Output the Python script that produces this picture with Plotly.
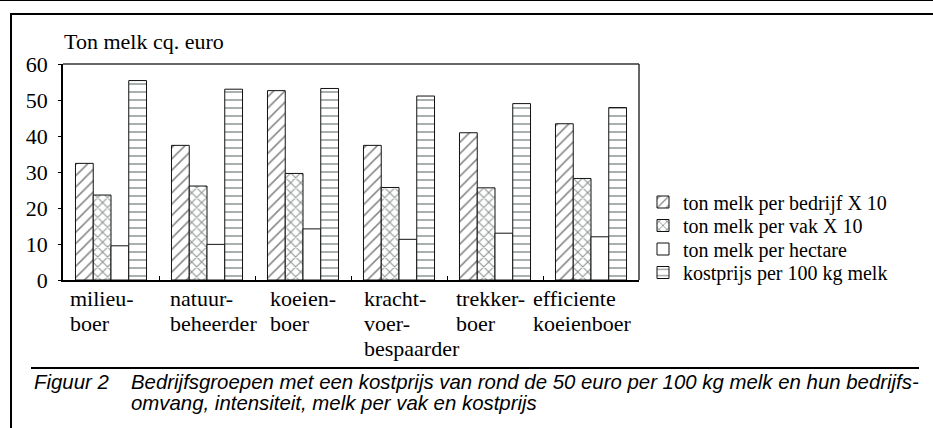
import plotly.graph_objects as go

# ---------------- data ----------------
categories = ["milieuboer", "natuurbeheerder", "koeienboer",
              "krachtvoerbespaarder", "trekkerboer", "efficiente koeienboer"]
category_labels = [["milieu-", "boer"], ["natuur-", "beheerder"], ["koeien-", "boer"],
                   ["kracht-", "voer-", "bespaarder"], ["trekker-", "boer"],
                   ["efficiente", "koeienboer"]]

melk_per_bedrijf = [32.4, 37.4, 52.6, 37.4, 40.9, 43.4]
melk_per_vak = [23.6, 26.1, 29.6, 25.7, 25.6, 28.2]
melk_per_hectare = [9.5, 9.9, 14.2, 11.3, 13.0, 12.0]
kostprijs = [55.4, 53.0, 53.2, 51.1, 49.0, 47.9]

series_names = ["ton melk per bedrijf X 10", "ton melk per vak X 10",
                "ton melk per hectare", "kostprijs per 100 kg melk"]
y_ticks = [0, 10, 20, 30, 40, 50, 60]

y_title = "Ton melk cq. euro"
caption_label = "Figuur 2"
caption_lines = ["Bedrijfsgroepen met een kostprijs van rond de 50 euro per 100 kg melk en hun bedrijfs-",
                 "omvang, intensiteit, melk per vak en kostprijs"]

# ---------------- styling ----------------
W, H = 933, 428
L, R, T, B = 63, 294, 64, 148
PW, PH = W - L - R, H - T - B
SERIF = "Liberation Serif"
SANS = "Liberation Sans"
FS = 22


def px(x):
    return (x - L) / PW


def py(y):
    return (H - B - y) / PH


patterns = ["/", "x", "", "-"]
pat_sizes = [8, 7, 8, 8]
pat_solid = [0.2, 0.28, 0.2, 0.2]
pat_colors = ["#111111", "#1a2424", "#111111", "#2a3838"]
legend_ids = ["legend", "legend2", "legend3", "legend4"]
legend_rows = [202, 225.5, 249, 272.5]
label_shift = [-43, -39, -35, -37, -41, -60]

fig = go.Figure()
for name, vals, pat, sz, so, pc, lg in zip(series_names,
                                           [melk_per_bedrijf, melk_per_vak, melk_per_hectare, kostprijs],
                                           patterns, pat_sizes, pat_solid, pat_colors, legend_ids):
    fig.add_trace(go.Bar(
        x=categories, y=vals, name=name, legend=lg,
        marker=dict(color="white",
                    line=dict(color="#111111", width=1),
                    pattern=dict(shape=pat, fgcolor=pc, bgcolor="white",
                                 size=sz, solidity=so, fillmode="overlay")),
    ))

annotations = []
for cat, lines, sh in zip(categories, category_labels, label_shift):
    for i, ln in enumerate(lines):
        annotations.append(dict(x=cat, xref="x", y=0, yref="y", text=ln,
                                showarrow=False, xanchor="left", yanchor="middle",
                                align="left", xshift=sh, yshift=-18 - 25 * i,
                                font=dict(family=SERIF, size=FS, color="black")))

annotations.append(dict(x=px(62), xref="paper", y=py(41), yref="paper", text=y_title,
                        showarrow=False, xanchor="left", yanchor="middle",
                        font=dict(family=SERIF, size=FS, color="black")))
annotations.append(dict(x=px(32), xref="paper", y=py(382), yref="paper",
                        text="<i>" + caption_label + "</i>",
                        showarrow=False, xanchor="left", yanchor="middle",
                        font=dict(family=SANS, size=20.4, color="black")))
for i, line in enumerate(caption_lines):
    annotations.append(dict(x=px(129), xref="paper", y=py(382 + 21 * i), yref="paper",
                            text="<i>" + line + "</i>",
                            showarrow=False, xanchor="left", yanchor="middle",
                            font=dict(family=SANS, size=20.4, color="black")))

shapes = [
    dict(type="line", xref="paper", yref="paper", x0=px(0), x1=px(W), y0=py(0.5), y1=py(0.5),
         line=dict(color="black", width=1)),
    dict(type="line", xref="paper", yref="paper", x0=px(10), x1=px(W), y0=py(14), y1=py(14),
         line=dict(color="black", width=2)),
    dict(type="line", xref="paper", yref="paper", x0=px(11), x1=px(11), y0=py(14), y1=py(H),
         line=dict(color="black", width=2)),
    dict(type="line", xref="paper", yref="paper", x0=px(31), x1=px(919), y0=py(368), y1=py(368),
         line=dict(color="black", width=2)),
    # plot frame (top and right borders)
    dict(type="line", xref="paper", yref="paper", x0=0, x1=1, y0=1, y1=1,
         line=dict(color="#333333", width=1.5)),
    dict(type="line", xref="paper", yref="paper", x0=1, x1=1, y0=0, y1=1,
         line=dict(color="#333333", width=1.5)),
]

legend_common = dict(x=px(643), xanchor="left", yanchor="middle",
                     font=dict(family=SERIF, size=20, color="black"),
                     bgcolor="rgba(0,0,0,0)", borderwidth=0)
legends = {lg: dict(legend_common, y=py(row)) for lg, row in zip(legend_ids, legend_rows)}

fig.update_layout(
    width=W, height=H,
    margin=dict(l=L, r=R, t=T, b=B, pad=0),
    paper_bgcolor="white", plot_bgcolor="white",
    barmode="group", bargap=0.26, bargroupgap=0,
    font=dict(family=SERIF, size=FS, color="black"),
    showlegend=True,
    xaxis=dict(range=[-0.5, 5.5], showticklabels=False, ticks="inside",
               tickson="boundaries", ticklen=4, tickcolor="black",
               showline=True, linecolor="black", linewidth=2, mirror=False,
               showgrid=False, zeroline=False, fixedrange=True),
    yaxis=dict(range=[0, 60], tickvals=y_ticks, ticks="outside", ticklen=3,
               tickcolor="black", showline=True, linecolor="black", linewidth=1.5,
               mirror=False, showgrid=False, zeroline=False,
               tickfont=dict(family=SERIF, size=FS, color="black"),
               ticklabelstandoff=6, fixedrange=True),
    annotations=annotations,
    shapes=shapes,
    **legends,
)

fig.write_html("out.html", config={"displayModeBar": False},
               post_script="document.body.style.margin='0';")
